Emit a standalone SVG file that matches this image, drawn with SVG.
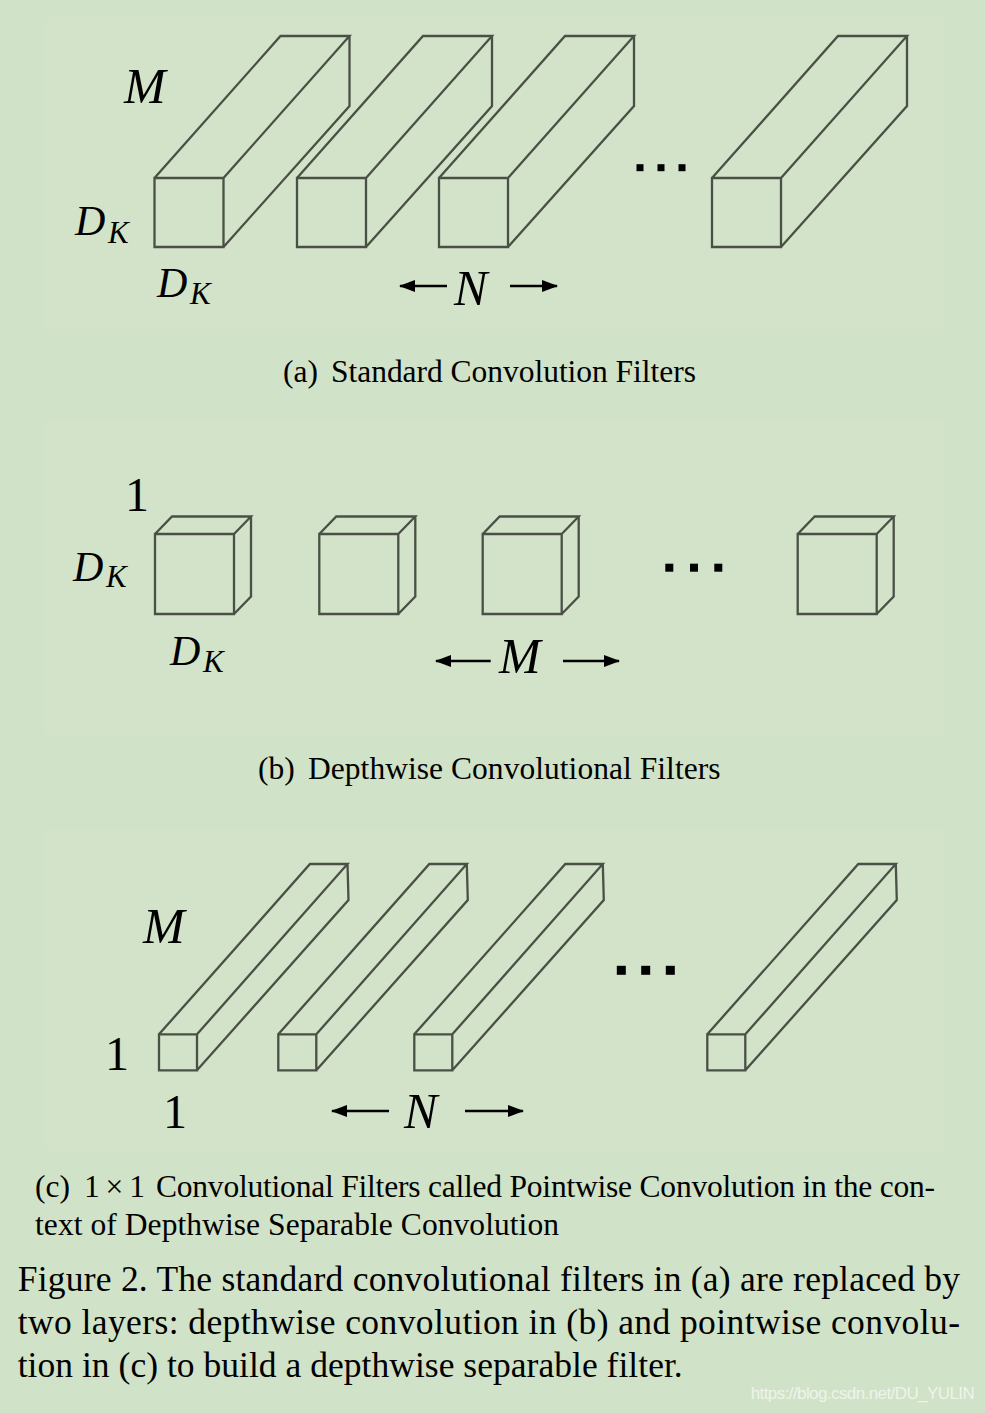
<svg xmlns="http://www.w3.org/2000/svg" xmlns:xlink="http://www.w3.org/1999/xlink" width="985" height="1413" viewBox="0 0 985 1413">
<style>
.edge{fill:none;stroke:#4b5046;stroke-width:2.3;stroke-linejoin:miter}
.math{font-family:"Liberation Serif","Times New Roman",serif;font-style:italic;fill:#000}
.num{font-family:"Liberation Serif","Times New Roman",serif;fill:#000}
.cap{font-family:"Liberation Serif","Times New Roman",serif;font-size:31.5px;fill:#000}
.fig{font-family:"Liberation Serif","Times New Roman",serif;font-size:35.5px;fill:#000}
.arrow{fill:none;stroke:#000;stroke-width:2.5}
.dot{fill:#000}
</style>
<defs>
<path id="prismA" class="edge" d="M0,0 h69 v69 h-69 z M0,0 L126,-142 H195 L69,0 M195,-142 V-72 L69,69"/>
<path id="cubeB" class="edge" d="M0,0 h79 v80 h-79 z M0,0 l17,-17.5 h79 l-17,17.5 M96,-17.5 v80 l-17,17.5"/>
<path id="barC" class="edge" d="M0,0 h38 v36 h-38 z M0,0 L151,-170.3 H188.5 L38,0 M188.5,-170.3 L189.5,-134.3 L38,36"/>
<marker id="ah" markerUnits="userSpaceOnUse" markerWidth="18" markerHeight="14" refX="15" refY="6" orient="auto">
<path d="M0,0 L16,6 L0,12 z" fill="#000"/>
</marker>
</defs>
<rect x="0" y="0" width="985" height="1413" fill="#d0e2c7"/>
<g id="panels" fill="#d2e3c9">
<rect x="43" y="18" width="902" height="312"/>
<rect x="43" y="420" width="902" height="315"/>
<rect x="43" y="828" width="902" height="322"/>
</g>

<!-- (a) Standard convolution filters -->
<g id="a-filter1"><use xlink:href="#prismA" x="154.5" y="178"/></g>
<g id="a-filter2"><use xlink:href="#prismA" x="297" y="178"/></g>
<g id="a-filter3"><use xlink:href="#prismA" x="439" y="178"/></g>
<g id="a-dots"><rect class="dot" x="636.5" y="164.2" width="7" height="7"/><rect class="dot" x="657.5" y="164.2" width="7" height="7"/><rect class="dot" x="678.5" y="164.2" width="7" height="7"/></g>
<g id="a-filterN"><use xlink:href="#prismA" x="712" y="178"/></g>
<g id="a-labels">
<text class="math" x="124" y="103" font-size="50">M</text>
<text class="math" x="75" y="235" font-size="42">D</text><text class="math" x="108" y="243" font-size="31">K</text>
<text class="math" x="157" y="297" font-size="42">D</text><text class="math" x="190" y="304" font-size="31">K</text>
<text class="math" x="454" y="305" font-size="50">N</text>
</g>

<!-- (b) Depthwise filters -->
<g id="b-filter1"><use xlink:href="#cubeB" x="155" y="534"/></g>
<g id="b-filter2"><use xlink:href="#cubeB" x="319.3" y="534"/></g>
<g id="b-filter3"><use xlink:href="#cubeB" x="482.7" y="534"/></g>
<g id="b-dots"><rect class="dot" x="665.3" y="563.7" width="8" height="8"/><rect class="dot" x="690" y="563.7" width="8" height="8"/><rect class="dot" x="714.3" y="563.7" width="8" height="8"/></g>
<g id="b-filterM"><use xlink:href="#cubeB" x="797.7" y="534"/></g>
<g id="b-labels">
<text class="num" x="125" y="510.7" font-size="48">1</text>
<text class="math" x="73" y="581" font-size="42">D</text><text class="math" x="106" y="587" font-size="31">K</text>
<text class="math" x="170" y="665" font-size="42">D</text><text class="math" x="203" y="672" font-size="31">K</text>
<text class="math" x="499" y="673.3" font-size="50">M</text>
</g>

<!-- (c) Pointwise filters -->
<g id="c-filter1"><use xlink:href="#barC" x="159" y="1034.3"/></g>
<g id="c-filter2"><use xlink:href="#barC" x="278.3" y="1034.3"/></g>
<g id="c-filter3"><use xlink:href="#barC" x="414.3" y="1034.3"/></g>
<g id="c-dots"><rect class="dot" x="616.8" y="965.8" width="9" height="9"/><rect class="dot" x="641.2" y="965.8" width="9" height="9"/><rect class="dot" x="665.8" y="965.8" width="9" height="9"/></g>
<g id="c-filterN"><use xlink:href="#barC" x="707.3" y="1034.3"/></g>
<g id="c-labels">
<text class="math" x="143" y="943.3" font-size="50">M</text>
<text class="num" x="105" y="1070" font-size="48">1</text>
<text class="num" x="163" y="1128" font-size="48">1</text>
<text class="math" x="404" y="1128" font-size="50">N</text>
</g>

<g id="connectors">
<path class="arrow" d="M447,286 H400" marker-end="url(#ah)"/>
<path class="arrow" d="M510,286 H557" marker-end="url(#ah)"/>
<path class="arrow" d="M490.7,661 H436" marker-end="url(#ah)"/>
<path class="arrow" d="M563,661 H619" marker-end="url(#ah)"/>
<path class="arrow" d="M389,1111 H332" marker-end="url(#ah)"/>
<path class="arrow" d="M465,1111 H523" marker-end="url(#ah)"/>
</g>

<g id="captions">
<text class="cap" x="283" y="381.7">(a)</text>
<text class="cap" x="331" y="381.7" textLength="365" lengthAdjust="spacing">Standard Convolution Filters</text>
<text class="cap" x="258" y="779">(b)</text>
<text class="cap" x="308" y="779" textLength="412.5" lengthAdjust="spacing">Depthwise Convolutional Filters</text>
<text class="cap" x="35" y="1197.3">(c)</text>
<text class="cap" x="84" y="1197.3" textLength="61" lengthAdjust="spacing">1 × 1</text>
<text class="cap" x="156" y="1197.3" textLength="779" lengthAdjust="spacing">Convolutional Filters called Pointwise Convolution in the con-</text>
<text class="cap" x="35" y="1235" textLength="524" lengthAdjust="spacing">text of Depthwise Separable Convolution</text>
<text class="fig" x="17.7" y="1290.7" textLength="942.3" lengthAdjust="spacing">Figure 2. The standard convolutional filters in (a) are replaced by</text>
<text class="fig" x="17.7" y="1334" textLength="942.3" lengthAdjust="spacing">two layers: depthwise convolution in (b) and pointwise convolu-</text>
<text class="fig" x="17.7" y="1377.3" textLength="665" lengthAdjust="spacing">tion in (c) to build a depthwise separable filter.</text>
<text x="750.7" y="1399" font-family="'Liberation Sans',Arial,sans-serif" font-size="17" fill="#eef4ea" textLength="224" lengthAdjust="spacing">https://blog.csdn.net/DU_YULIN</text>
</g>
</svg>
